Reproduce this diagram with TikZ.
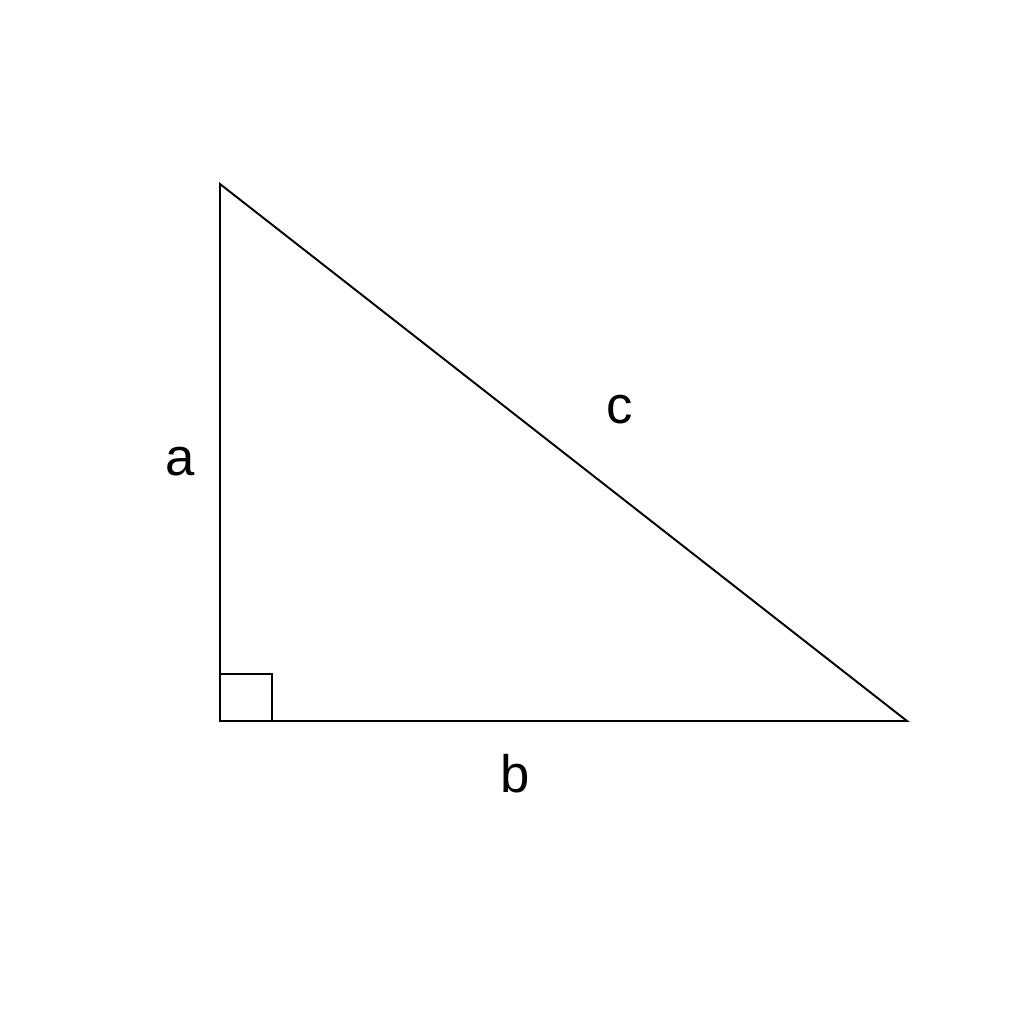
\documentclass[tikz,border=0pt]{standalone}
\usepackage{fontspec}
\setmainfont{Liberation Sans}
\begin{document}
\begin{tikzpicture}[x=0.02cm,y=-0.02cm,line width=1.1pt,side label/.style={inner sep=0pt,font=\fontsize{30}{36}\selectfont}]
                \useasboundingbox (0,0) rectangle (1024,1024);
                \coordinate (top) at (220,184);
                \coordinate (corner) at (220,721);
                \coordinate (right) at (907,721);
                \node[side label] at (180,462) (a) {a};
                \node[side label] at (515,774) (b) {b};
                \node[side label] at (620,410) (c) {c};
                \draw (corner) -- (top) -- (right) -- cycle;
                \draw (corner) ++(0,-47) -| ++(52,47);

            \end{tikzpicture}
\end{document}
